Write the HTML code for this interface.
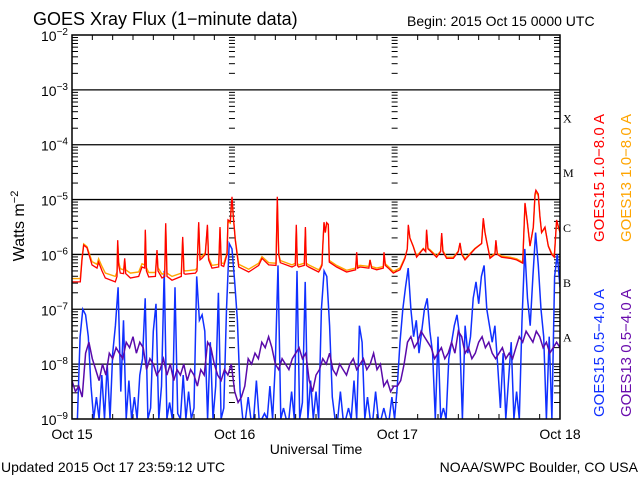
<!DOCTYPE html>
<html><head><meta charset="utf-8"><style>
html,body{margin:0;padding:0;background:#fff;}
svg{display:block;font-family:"Liberation Sans",sans-serif;}
</style></head><body>
<svg id="chart" width="640" height="480" viewBox="0 0 640 480" xmlns="http://www.w3.org/2000/svg">
<rect width="640" height="480" fill="#fff"/>
<text x="33" y="25" font-size="18">GOES Xray Flux (1−minute data)</text>
<text x="407" y="26" font-size="14">Begin:  2015 Oct 15 0000 UTC</text>
<text transform="translate(24,226) rotate(-90)" text-anchor="middle" font-size="16">Watts m<tspan font-size="11" dy="-6">−2</tspan></text>
<text x="316" y="454" text-anchor="middle" font-size="14">Universal Time</text>
<text x="1" y="472" font-size="14">Updated 2015 Oct 17 23:59:12 UTC</text>
<text x="638" y="472" text-anchor="end" font-size="14">NOAA/SWPC Boulder, CO USA</text>
<text transform="translate(604,242) rotate(-90)" font-size="15" fill="#ff0000">GOES15 1.0−8.0 A</text>
<text transform="translate(631,242) rotate(-90)" font-size="15" fill="#ffa500">GOES13 1.0−8.0 A</text>
<text transform="translate(604,417) rotate(-90)" font-size="15" fill="#1030ff">GOES15 0.5−4.0 A</text>
<text transform="translate(631,417) rotate(-90)" font-size="15" fill="#6a0dad">GOES13 0.5−4.0 A</text>
<g id="plot"></g>
</svg>
<script>
const decades = [-2,-3,-4,-5,-6,-7,-8,-9];
const decadeLabels = ["−2","−3","−4","−5","−6","−7","−8","−9"];
const classLetters = ["X","M","C","B","A"];
const classLevels = [-3.5,-4.5,-5.5,-6.5,-7.5];
const dayLabels = ["Oct 15","Oct 16","Oct 17","Oct 18"];
const dayHours = [0,24,48,72];
const dayMarkHours = [23.6,47.6];

const longT = [0,1.23,1.48,1.72,2.21,2.95,3.69,3.93,4.43,4.92,6.39,6.64,6.74,6.89,7.13,7.62,7.77,7.92,8.61,9.84,10.33,10.72,10.82,10.97,11.31,12.30,12.54,12.69,13.28,13.67,13.82,14.02,14.75,16.13,16.33,16.52,16.72,18.20,18.44,18.69,18.89,19.18,19.67,19.97,20.16,20.66,21.64,21.84,22.03,22.38,22.87,23.02,23.36,23.51,23.61,23.80,24.10,24.59,26.07,27.54,28.03,29.02,30.10,30.29,30.49,30.74,32.46,32.95,33.10,33.24,33.44,34.28,34.43,34.57,34.92,36.39,36.59,36.88,36.98,37.18,37.37,37.57,37.81,37.96,39.04,40.52,41.85,42.0,42.14,42.49,43.81,43.96,44.2,44.95,45.93,46.03,46.22,46.67,47.41,48.39,49.13,49.47,49.62,49.86,50.36,50.85,51.83,52.18,52.32,52.52,52.81,53.8,54.39,54.54,54.73,55.27,56.26,56.99,57.24,57.49,57.98,59.45,60.44,60.68,60.93,61.17,61.67,62.4,62.55,62.75,63.39,64.62,65.6,66.49,66.83,67.18,67.57,68.06,68.31,68.45,68.8,69.04,69.29,69.78,70.27,70.77,71.16,71.5,72.0];
const g15LongV = [-6.50,-6.50,-6.1,-5.83,-5.88,-6.19,-6.25,-6.14,-6.3,-6.43,-6.50,-6.4,-5.74,-6.2,-6.34,-6.35,-6.07,-6.35,-6.43,-6.4,-6.23,-6.25,-5.55,-6.3,-6.41,-6.4,-5.92,-6.3,-6.43,-6.4,-5.43,-6.4,-6.47,-6.4,-5.68,-6.35,-6.36,-6.34,-6.3,-5.41,-6.1,-6.07,-6.0,-5.46,-6.1,-6.25,-6.23,-5.50,-6.2,-6.22,-6.0,-5.37,-5.4,-5.1,-4.95,-5.3,-5.74,-6.23,-6.32,-6.2,-6.07,-6.19,-6.2,-4.95,-6.0,-6.15,-6.23,-6.2,-5.46,-6.2,-6.23,-6.2,-5.50,-6.2,-6.23,-6.32,-6.28,-6.2,-5.92,-5.41,-5.6,-5.42,-5.45,-6.14,-6.23,-6.32,-6.28,-5.96,-6.25,-6.23,-6.25,-6.10,-6.25,-6.28,-6.25,-5.96,-6.2,-6.25,-6.34,-6.28,-6.07,-5.9,-5.46,-5.7,-5.86,-6.05,-5.90,-5.95,-5.55,-5.9,-5.93,-6.05,-5.95,-5.61,-5.95,-6.07,-6.07,-5.95,-5.79,-6.0,-6.1,-5.9,-5.8,-5.34,-5.6,-5.76,-6.07,-6.0,-5.74,-6.0,-6.05,-6.07,-6.1,-6.16,-5.06,-5.4,-5.85,-5.5,-4.9,-4.83,-4.9,-5.3,-5.6,-5.5,-5.85,-6.0,-6.05,-5.37,-5.6];
const g13LongV = [-6.44,-6.44,-6.06,-5.81,-5.86,-6.13,-6.18,-6.08,-6.22,-6.34,
-6.40,-6.32,-5.76,-6.14,-6.26,-6.28,-6.09,-6.28,-6.34,-6.32,
-6.17,-6.19,-5.58,-6.24,-6.33,-6.33,-5.95,-6.24,-6.36,-6.34,
-5.46,-6.34,-6.40,-6.34,-5.71,-6.29,-6.30,-6.28,-6.25,-5.44,
-6.06,-6.03,-5.97,-5.49,-6.06,-6.20,-6.18,-5.53,-6.15,-6.17,
-5.97,-5.40,-5.43,-5.13,-4.98,-5.32,-5.72,-6.18,-6.27,-6.16,
-6.04,-6.15,-6.16,-4.98,-5.98,-6.11,-6.19,-6.16,-5.49,-6.16,
-6.19,-6.16,-5.53,-6.16,-6.19,-6.28,
-6.25,-6.17,-5.92,-5.43,-5.6,-5.44,-5.46,-6.11,-6.2,-6.29,
-6.25,-5.98,-6.22,-6.2,-6.22,-6.1,-6.22,-6.25,-6.22,-5.98,
-6.17,-6.22,-6.31,-6.25,-6.05,-5.9,-5.48,-5.7,-5.85,-6.03,
-5.89,-5.94,-5.57,-5.89,-5.91,-6.03,-5.94,-5.63,-5.93,-6.05,
-6.05,-5.94,-5.8,-5.98,-6.08,-5.89,-5.8,-5.36,-5.6,-5.75,
-6.05,-5.98,-5.76,-5.98,-6.03,-6.05,-6.08,-6.14,-5.08,-5.42,
-5.84,-5.52,-4.93,-4.86,-4.93,-5.32,-5.6,-5.52,-5.84,-5.98,
-6.03,-5.4,-5.6];

const g15ShortStep = 0.4;
const g15ShortV = [
-9,-9,-9,-7.5,-7.0,-7.1,-7.5,-8.4,-9,-8.6,-9,-8.2,-9,-8.0,-9,-7.8,-7.3,-6.6,-8.5,-7.2,-9,-8.3,-9,-8.6,-9,-8.2,-7.9,-6.8,-9,-8.8,
-7.4,-6.9,-9,-8.4,-6.3,-9,-8.7,-9,-6.6,-8.9,-9,-8.2,-9,-8.5,-9,-8.8,-6.4,-7.2,-7.1,-7.4,-9,-7.6,-9,-8.4,-6.7,-9,-8.8,-7.0,-5.8,-5.9,
-6.5,-7.2,-8.5,-9,-9,-8.6,-9,-9,-8.3,-9,-9,-8.9,-9,-8.4,-9,-8.0,-6.2,-9,-8.8,-9,-9,-8.5,-9,-6.3,-9,-8.7,-6.5,-9,-8.3,-9,
-8.5,-9,-7.0,-6.3,-6.4,-7.3,-8.6,-9,-9,-8.5,-9,-9,-8.8,-9,-8.3,-9,-7.3,-7.6,-9,-8.6,-9,-9,-8.5,-9,-9,-8.8,-9,-9,-8.6,-9,
-8.4,-7.6,-7.0,-6.6,-6.25,-7.0,-7.5,-7.2,-7.8,-7.4,-7.0,-6.8,-7.4,-7.8,-9,-7.5,-9,-8.8,-9,-7.9,-7.6,-7.3,-7.1,-7.5,-9,-7.3,-7.8,-7.5,-6.8,-6.5,
-6.9,-6.4,-6.2,-7.0,-7.3,-7.6,-7.3,-8.0,-8.8,-7.8,-9,-8.3,-7.6,-9,-8.5,-9,-7.2,-5.9,-6.8,-7.3,-6.4,-5.6,-6.2,-7.0,-7.5,-9,-7.5,-9,-6.4,-6.0,-6.6];

const g13ShortStep = 0.5;
const g13ShortV = [
-8.3,-8.5,-8.4,-8.6,-7.8,-7.6,-7.9,-8.1,-8.3,-8.0,-8.2,-7.8,-7.9,-7.7,-7.8,-7.9,-7.6,-7.7,-7.5,-7.8,-7.6,-7.7,-8.1,-7.9,
-8.0,-8.2,-8.1,-7.9,-8.2,-8.0,-8.3,-8.1,-8.2,-8.0,-8.3,-8.1,-8.2,-8.4,-8.1,-8.2,-7.6,-7.7,-8.0,-8.2,-8.3,-8.1,-8.2,-8.0,
-8.5,-8.7,-8.6,-8.4,-7.9,-8.0,-7.8,-7.9,-7.6,-7.7,-7.5,-7.7,-8.0,-8.1,-7.9,-8.0,-8.1,-7.9,-7.8,-7.7,-7.9,-7.8,-8.3,-8.5,
-8.2,-8.1,-7.9,-8.0,-7.8,-8.1,-8.2,-8.0,-8.1,-8.2,-8.0,-7.9,-8.1,-8.0,-7.9,-8.1,-8.0,-7.8,-8.1,-8.0,-8.4,-8.3,-8.5,-8.4,
-8.4,-8.3,-8.0,-7.6,-7.5,-7.7,-7.6,-7.4,-7.5,-7.6,-7.7,-7.9,-7.8,-7.7,-7.9,-7.8,-7.6,-7.8,-7.4,-7.5,-7.8,-7.7,-7.9,-7.8,
-7.6,-7.5,-7.7,-7.6,-7.8,-7.9,-7.8,-7.7,-7.9,-7.8,-7.9,-7.7,-7.5,-7.6,-7.4,-7.5,-7.6,-7.4,-7.5,-7.7,-7.6,-7.8,-7.7,-7.6,-7.7];

const L = 72, R = 560, T = 35, B = 419;
const NS = "http://www.w3.org/2000/svg";
function xs(h){ return L + h * (R - L) / 72; }
function ys(v){ return T + (-2 - v) * (B - T) / 7; }
const plot = document.getElementById('plot');
function mk(tag, attrs, parent){
  const e = document.createElementNS(NS, tag);
  for (const k in attrs) e.setAttribute(k, attrs[k]);
  (parent || plot).appendChild(e);
  return e;
}
const defs = mk('defs', {});
const cp = mk('clipPath', {id:'pc'}, defs);
mk('rect', {x:L, y:T, width:R-L, height:B-T}, cp);

decades.forEach((d,i)=>{
  if (i>0 && i<decades.length-1){
    const g = mk('line',{x1:L,x2:R,y1:ys(d),y2:ys(d),stroke:'#000','stroke-width':1.3});
    
    
  }
  const t = mk('text',{x:L-4,y:ys(d)+6,'text-anchor':'end','font-size':14});
  
  
  t.innerHTML = '10<tspan font-size="10" dy="-6">'+decadeLabels[i]+'</tspan>';
});
for (let d=-9; d<-2; d++){
  for (let m=2; m<=9; m++){
    const y = ys(d + Math.log10(m));
    mk('line',{x1:L,x2:L+6,y1:y,y2:y,stroke:'#000','stroke-width':1});
    mk('line',{x1:R-6,x2:R,y1:y,y2:y,stroke:'#000','stroke-width':1});
    dayMarkHours.forEach(h=>{
      mk('line',{x1:xs(h)-3,x2:xs(h)+3,y1:y,y2:y,stroke:'#000','stroke-width':1});
    });
  }
}
for (let h=3; h<72; h+=3){
  if (h%24!==0){
    mk('line',{x1:xs(h),x2:xs(h),y1:B,y2:B-5,stroke:'#000','stroke-width':1});
    mk('line',{x1:xs(h),x2:xs(h),y1:T,y2:T+5,stroke:'#000','stroke-width':1});
  }
}
dayLabels.forEach((lab,i)=>{
  const t = mk('text',{x:xs(dayHours[i]),y:439,'text-anchor':'middle','font-size':14});
  
  
  t.textContent = lab;
});
classLetters.forEach((c,i)=>{
  const t = mk('text',{x:R+3,y:ys(classLevels[i])+5,'font-size':12,'font-family':'Liberation Serif, serif'});
  
  
  t.textContent = c;
});
const sg = mk('g', {'clip-path':'url(#pc)'});
function polyIn(ts, vs, color, name, w){
  const pts = ts.map((t,i)=> xs(t).toFixed(1)+','+ys(Math.max(-9,vs[i])).toFixed(1)).join(' ');
  const p = mk('polyline', {points: pts, fill:'none', stroke: color, 'stroke-width': w}, sg);
  
  
}
polyIn(g15ShortV.map((v,i)=>i*g15ShortStep), g15ShortV, '#1030ff', 'goes15-short-line', 1.5);
polyIn(g13ShortV.map((v,i)=>i*g13ShortStep), g13ShortV, '#5a0aaa', 'goes13-short-line', 1.5);
polyIn(longT, g13LongV, '#ffa500', 'goes13-long-line', 1.4);
polyIn(longT, g15LongV, '#ff0000', 'goes15-long-line', 1.3);
const fr = mk('rect',{x:L,y:T,width:R-L,height:B-T,fill:'none',stroke:'#000','stroke-width':1.5});


</script>
</body></html>
